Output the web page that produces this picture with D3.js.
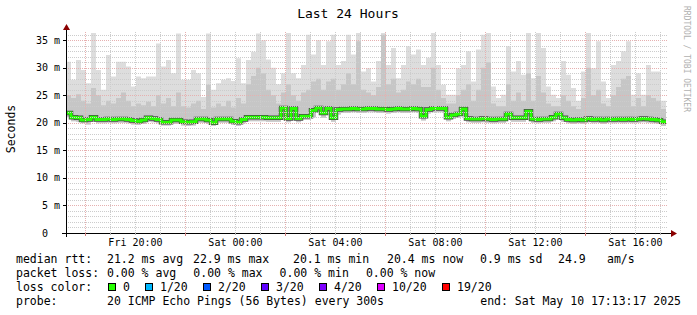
<!DOCTYPE html>
<html>
<head>
<meta charset="utf-8">
<title>Last 24 Hours</title>
<script src="https://cdn.jsdelivr.net/npm/d3@7"></script>
<style>
  body { margin: 0; background: #fff; }
  text { font-family: "DejaVu Sans Mono", monospace; white-space: pre; }
</style>
</head>
<body>
<script>
// time range of the graph (one rrd step = 12 min)
var startTime = new Date(2025, 4, 9, 17, 13, 17);
var endTime = new Date(2025, 4, 10, 17, 13, 17);
var stepMinutes = 12;

// median rtt, ms
var medianRtt = [
  21.8, 21.0, 20.9, 20.5, 20.6, 21.0, 20.6, 20.6, 20.7, 20.6,
  20.7, 20.7, 20.6, 20.4, 20.3, 20.5, 20.9, 20.8, 20.6, 20.1,
  20.1, 20.5, 20.5, 20.2, 20.1, 20.2, 20.7, 20.7, 20.5, 20.0,
  20.7, 20.7, 20.7, 20.3, 20.1, 20.6, 21.0, 21.0, 21.0, 21.0,
  20.9, 20.9, 20.9, 22.7, 20.8, 22.6, 20.8, 21.2, 21.2, 22.3,
  22.7, 21.8, 22.6, 20.9, 22.4, 22.5, 22.5, 22.6, 22.5, 22.5,
  22.6, 22.6, 22.5, 22.5, 22.4, 22.5, 22.6, 22.5, 22.5, 22.6,
  22.5, 21.2, 22.4, 22.6, 22.6, 22.6, 21.0, 21.4, 21.6, 22.5,
  20.8, 20.7, 20.7, 20.8, 20.7, 20.6, 20.7, 20.7, 21.6, 20.9,
  20.9, 20.9, 22.1, 20.7, 20.6, 20.7, 20.7, 21.0, 21.6, 20.9,
  20.6, 20.5, 20.6, 20.5, 20.8, 20.6, 20.7, 20.5, 20.7, 20.6,
  20.7, 20.6, 20.7, 20.6, 20.7, 20.8, 20.7, 20.6, 20.5, 20.2
];
// fastest ping of each round, ms
var pingMin = [
  21.0, 20.3, 20.2, 19.9, 19.7, 20.2, 19.9, 19.9, 20.0, 19.9,
  20.0, 20.0, 19.9, 19.7, 19.6, 19.8, 20.2, 20.1, 19.9, 19.5,
  19.5, 19.8, 19.8, 19.5, 19.4, 19.5, 20.0, 20.0, 19.8, 19.4,
  20.0, 20.0, 20.0, 19.6, 19.4, 19.9, 20.3, 20.3, 20.3, 20.3,
  20.2, 20.2, 20.2, 21.0, 20.1, 20.5, 20.1, 20.5, 20.5, 21.0,
  21.9, 20.9, 21.8, 20.2, 21.5, 21.8, 21.8, 21.9, 21.8, 21.8,
  21.9, 21.9, 21.8, 21.8, 21.7, 21.8, 21.9, 21.8, 21.8, 21.9,
  21.8, 20.4, 21.7, 21.9, 21.9, 21.9, 20.3, 20.7, 20.9, 21.6,
  20.1, 20.0, 20.0, 20.1, 20.0, 19.9, 20.0, 20.0, 20.8, 20.2,
  20.2, 20.2, 21.3, 20.0, 19.9, 20.0, 20.0, 20.3, 20.8, 20.2,
  19.9, 19.8, 19.9, 19.8, 20.1, 19.9, 20.0, 19.8, 20.0, 19.9,
  20.0, 19.9, 20.0, 19.9, 20.0, 20.1, 20.0, 19.9, 19.8, 19.4
];
// upper quartile of each round, ms
var pingMid = [
  25.0, 24.5, 25.2, 24.0, 23.5, 26.3, 25.0, 23.2, 24.0, 23.5,
  24.5, 25.5, 24.0, 23.0, 23.5, 23.2, 23.8, 23.0, 25.0, 23.5,
  24.5, 23.0, 25.5, 23.0, 22.8, 23.5, 24.0, 22.5, 26.9, 22.8,
  23.5, 23.0, 24.0, 22.8, 24.5, 23.5, 27.0, 28.5, 30.0, 29.0,
  26.0, 25.0, 23.5, 25.5, 27.0, 25.0, 24.0, 25.5, 26.0, 27.5,
  28.0, 26.0, 27.5, 28.0, 26.0, 27.0, 29.0, 27.0, 34.8, 26.0,
  25.5, 25.0, 26.5, 36.0, 27.0, 28.0, 25.5, 26.0, 27.5, 27.0,
  28.0, 26.5, 26.5, 30.0, 26.0, 24.5, 23.5, 23.5, 25.0, 26.0,
  27.0, 24.0, 26.0, 30.0, 31.0, 23.5, 23.0, 23.0, 27.0, 24.0,
  25.5, 24.0, 29.0, 24.0, 28.5, 25.5, 23.5, 23.0, 23.0, 25.0,
  24.0, 23.0, 22.5, 24.5, 30.0, 25.0, 26.0, 23.5, 23.0, 25.0,
  26.5, 28.0, 28.5, 23.0, 24.5, 23.0, 25.0, 24.5, 24.0, 22.5
];
// slowest ping of each round, ms
var pingMax = [
  31.1, 27.8, 31.4, 29.6, 27.2, 36.3, 29.6, 26.0, 32.3, 28.4,
  31.1, 31.1, 30.2, 26.6, 28.4, 28.1, 28.4, 28.4, 34.4, 30.2,
  31.4, 29.0, 36.2, 27.8, 27.8, 29.6, 29.0, 24.7, 36.2, 26.0,
  27.2, 27.8, 28.1, 27.6, 31.7, 27.2, 31.4, 32.9, 36.2, 35.0,
  31.5, 30.0, 27.0, 29.0, 36.3, 29.0, 28.1, 30.5, 36.0, 32.4,
  35.0, 30.5, 34.8, 36.0, 30.5, 31.2, 36.0, 32.4, 36.3, 29.3,
  29.9, 27.5, 31.2, 36.3, 30.5, 33.6, 28.1, 30.5, 33.9, 32.4,
  33.3, 30.5, 31.8, 36.3, 30.5, 26.9, 25.1, 25.1, 29.9, 30.5,
  33.0, 27.5, 33.3, 36.0, 36.3, 26.6, 24.5, 25.1, 33.9, 29.3,
  31.2, 28.7, 36.3, 28.1, 36.3, 33.6, 26.6, 25.1, 24.5, 31.2,
  28.7, 26.3, 24.0, 29.3, 36.3, 29.9, 34.8, 27.5, 24.5, 30.5,
  31.2, 33.0, 34.8, 25.1, 29.0, 25.1, 30.5, 29.3, 29.3, 24.0
];

var yTicks = [0, 5, 10, 15, 20, 25, 30, 35];
var yTickLabels = ["0  ", "5 m", "10 m", "15 m", "20 m", "25 m", "30 m", "35 m"];
var lossLabels = ["0", "1/20", "2/20", "3/20", "4/20", "10/20", "19/20"];
var lossColors = ["#26ff00", "#00b8ff", "#0059ff", "#5e00ff", "#7e00ff", "#dd00ff", "#ff0000"];
var rttLabel = "median rtt:";
var rttStats = ["21.2 ms avg", "22.9 ms max", "20.1 ms min", "20.4 ms now", "0.9 ms sd", "24.9", "am/s"];
var lossLabel = "packet loss:";
var lossStats = ["0.00 % avg", "0.00 % max", "0.00 % min", "0.00 % now"];
var colorLabel = "loss color:";
var probeLabel = "probe:";
var probeText = "20 ICMP Echo Pings (56 Bytes) every 300s";
var endLabel = "end: Sat May 10 17:13:17 2025";

var svg_width = 697, svg_height = 315;
var plot = {left: 66, right: 666, top: 33, bottom: 233};

var svg = d3.select("body").append("svg")
  .attr("width", svg_width)
  .attr("height", svg_height);

var x = d3.scaleTime().domain([startTime, endTime]).range([plot.left, plot.right]);
var y = d3.scaleLinear().domain([0, 36.3]).range([plot.bottom, plot.top]);

var data = medianRtt.map(function(m, i) {
  return {t: d3.timeMinute.offset(startTime, i * stepMinutes),
    med: m, lo: pingMin[i], mid: pingMid[i], hi: pingMax[i]};
});
// repeat the last row so the step reaches the end
data.push(Object.assign({}, data[data.length - 1], {t: endTime}));

svg.append("clipPath").attr("id", "clip")
  .append("rect")
  .attr("x", plot.left).attr("y", plot.top)
  .attr("width", plot.right - plot.left).attr("height", plot.bottom - plot.top);

var g = svg.append("g").attr("clip-path", "url(#clip)");

// smoke
g.append("path").datum(data)
  .attr("fill", "#dddddd")
  .attr("d", d3.area().curve(d3.curveStepAfter)
    .x(function(d) { return x(d.t); })
    .y0(function(d) { return y(d.lo); })
    .y1(function(d) { return y(d.hi); }));
g.append("path").datum(data)
  .attr("fill", "#c6c6c6")
  .attr("d", d3.area().curve(d3.curveStepAfter)
    .x(function(d) { return x(d.t); })
    .y0(function(d) { return y(d.lo); })
    .y1(function(d) { return y(d.mid); }));

// grid
var gridColor = "#cccccc", mgridColor = "#e6b0b0";
var hours = d3.timeHour.range(d3.timeHour.ceil(startTime), endTime);
var isMajor = function(d) { return (d.getHours() + 2) % 4 === 0; };
var isLabel = function(d) { return d.getHours() % 4 === 0; };

var grid = svg.append("g").attr("stroke-dasharray", "1,1").attr("shape-rendering", "crispEdges");
grid.selectAll(".hline").data(d3.range(1, 37))
  .enter().append("line")
  .attr("x1", plot.left).attr("x2", plot.right + 2)
  .attr("y1", function(d) { return Math.round(y(d)) + 0.5; })
  .attr("y2", function(d) { return Math.round(y(d)) + 0.5; })
  .attr("stroke", function(d) { return d % 5 === 0 ? mgridColor : gridColor; });
grid.selectAll(".vline").data(hours)
  .enter().append("line")
  .attr("x1", function(d) { return Math.round(x(d)) + 0.5; })
  .attr("x2", function(d) { return Math.round(x(d)) + 0.5; })
  .attr("y1", plot.top - 1).attr("y2", plot.bottom)
  .attr("stroke", function(d) { return isMajor(d) ? mgridColor : gridColor; });

// median line, coloured by loss
var medLine = d3.line().curve(d3.curveStepAfter)
  .x(function(d) { return x(d.t); })
  .y(function(d) { return y(d.med); });
g.append("path").datum(data)
  .attr("fill", "none").attr("stroke", "#4a4a4a").attr("stroke-width", 4.5)
  .attr("d", medLine);
g.append("path").datum(data)
  .attr("fill", "none").attr("stroke", lossColors[0]).attr("stroke-width", 3)
  .attr("d", medLine);

// axes
var axes = svg.append("g").attr("shape-rendering", "crispEdges");
axes.append("line")
  .attr("x1", plot.left - 4).attr("x2", plot.right + 6)
  .attr("y1", plot.bottom + 0.5).attr("y2", plot.bottom + 0.5)
  .attr("stroke", "#000");
axes.append("line")
  .attr("x1", plot.left + 0.5).attr("x2", plot.left + 0.5)
  .attr("y1", plot.bottom + 4).attr("y2", plot.top - 3)
  .attr("stroke", "#000");
axes.selectAll(".xt").data(hours)
  .enter().append("line")
  .attr("x1", function(d) { return Math.round(x(d)) + 0.5; })
  .attr("x2", function(d) { return Math.round(x(d)) + 0.5; })
  .attr("y1", plot.bottom)
  .attr("y2", function(d) { return plot.bottom + (isMajor(d) ? 3 : 2); })
  .attr("stroke", function(d) { return isMajor(d) ? "#d08080" : "#b0b0b0"; });
axes.selectAll(".yt").data(yTicks)
  .enter().append("line")
  .attr("x1", plot.left - 3).attr("x2", plot.left)
  .attr("y1", function(d) { return Math.round(y(d)) + 0.5; })
  .attr("y2", function(d) { return Math.round(y(d)) + 0.5; })
  .attr("stroke", "#000");

svg.append("path")
  .attr("d", "M" + (plot.left + 0.5) + "," + (plot.top - 9) + "l-3.5,6h7z")
  .attr("fill", "#8b0000");
svg.append("path")
  .attr("d", "M" + (plot.right + 11) + "," + (plot.bottom + 0.5) + "l-6,-3.5v7z")
  .attr("fill", "#8b0000");

// tick labels
svg.selectAll(".ylab").data(yTicks)
  .enter().append("text")
  .attr("x", plot.left - 6)
  .attr("y", function(d) { return y(d) + 3.5; })
  .attr("text-anchor", "end")
  .attr("font-size", "10px")
  .text(function(d, i) { return yTickLabels[i]; });

var fmt = d3.timeFormat("%a %H:%M");
svg.selectAll(".xlab").data(hours.filter(isLabel))
  .enter().append("text")
  .attr("x", function(d) { return x(d); })
  .attr("y", plot.bottom + 13)
  .attr("text-anchor", "middle")
  .attr("font-size", "10px")
  .text(fmt);

// titles
svg.append("text")
  .attr("x", 348).attr("y", 18)
  .attr("text-anchor", "middle").attr("font-size", "13px")
  .text("Last 24 Hours");
svg.append("text")
  .attr("transform", "translate(15,129) rotate(-90)")
  .attr("text-anchor", "middle").attr("font-size", "11.5px")
  .text("Seconds");
svg.append("text")
  .attr("transform", "translate(684,59) rotate(90)")
  .attr("text-anchor", "middle").attr("font-size", "8px")
  .attr("fill", "#b0b0b0")
  .text("RRDTOOL / TOBI OETIKER");

// legend
var legend = svg.append("g").attr("font-size", "11.5px");
var row = function(i) { return 263 + i * 14; };
var col = 107;
var addText = function(xp, yp, s) {
  return legend.append("text").attr("x", xp).attr("y", yp).text(s);
};
addText(16, row(0), rttLabel);
var rttX = [col, 193, 293, 387, 480, 558, 607];
rttStats.forEach(function(s, i) { addText(rttX[i], row(0), s); });
addText(16, row(1), lossLabel);
lossStats.forEach(function(s, i) { addText(col + i * 86.3, row(1), s); });
addText(16, row(2), colorLabel);
addText(16, row(3), probeLabel);
addText(col, row(3), probeText);
addText(681, row(3), endLabel).attr("text-anchor", "end");

var cursor = 108;
lossLabels.forEach(function(lab, i) {
  legend.append("rect")
    .attr("x", cursor + 0.5).attr("y", 283.5)
    .attr("width", 7).attr("height", 7)
    .attr("fill", lossColors[i]).attr("stroke", "#000");
  addText(cursor + 15, row(2), lab);
  cursor += 15 + lab.length * 7 + 15;
});
</script>
</body>
</html>
